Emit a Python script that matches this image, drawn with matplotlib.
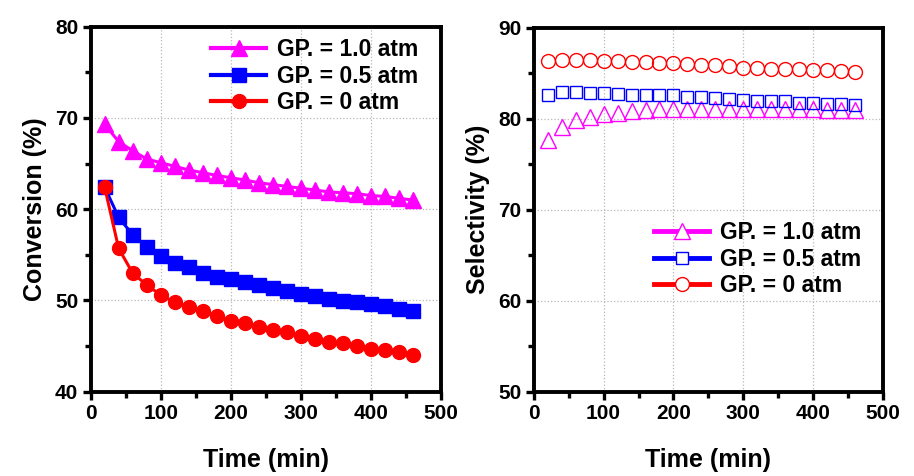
import matplotlib
matplotlib.use("Agg")
import matplotlib.pyplot as plt
from matplotlib.lines import Line2D
from matplotlib.ticker import MultipleLocator

plt.rcParams['font.family'] = ['Liberation Sans', 'DejaVu Sans']
plt.rcParams['font.weight'] = 'bold'

time_min = [20, 40, 60, 80, 100, 120, 140, 160, 180, 200, 220, 240,
            260, 280, 300, 320, 340, 360, 380, 400, 420, 440, 460]

conv_gp10 = [69.3, 67.4, 66.4, 65.5, 65.1, 64.7, 64.3, 64.0, 63.7, 63.45, 63.2, 62.9,
             62.7, 62.5, 62.3, 62.1, 61.9, 61.8, 61.7, 61.5, 61.4, 61.2, 61.0]
conv_gp05 = [62.4, 59.1, 57.2, 55.9, 54.9, 54.1, 53.7, 53.0, 52.6, 52.3, 52.0, 51.7,
             51.4, 51.0, 50.7, 50.45, 50.2, 49.9, 49.8, 49.6, 49.4, 49.1, 48.9]
conv_gp0 = [62.4, 55.7, 53.0, 51.7, 50.6, 49.8, 49.3, 48.8, 48.3, 47.8, 47.5, 47.1,
            46.8, 46.5, 46.1, 45.8, 45.5, 45.3, 45.0, 44.7, 44.6, 44.35, 44.05]

sel_gp10 = [77.7, 79.1, 79.85, 80.2, 80.5, 80.6, 80.85, 80.95, 81.05, 81.05, 81.1, 81.1,
            81.1, 81.1, 81.1, 81.1, 81.1, 81.1, 81.05, 81.05, 81.0, 81.0, 80.95]
sel_gp05 = [82.6, 82.9, 82.9, 82.85, 82.85, 82.75, 82.6, 82.6, 82.55, 82.55, 82.4, 82.35,
            82.3, 82.2, 82.05, 81.95, 81.9, 81.9, 81.7, 81.7, 81.65, 81.6, 81.55]
sel_gp0 = [86.3, 86.4, 86.4, 86.4, 86.35, 86.3, 86.25, 86.2, 86.15, 86.1, 86.0, 85.9,
           85.9, 85.75, 85.6, 85.6, 85.5, 85.45, 85.4, 85.3, 85.3, 85.2, 85.1]

labels = ["GP. = 1.0 atm", "GP. = 0.5 atm", "GP. = 0 atm"]
colors = ["#FF00FF", "#0000FF", "#FF0000"]

fig = plt.figure(figsize=(9.14, 4.76), dpi=100)
ax1 = fig.add_axes([0.0992, 0.177, 0.383, 0.767])
ax2 = fig.add_axes([0.584, 0.177, 0.382, 0.765])


def style(ax, ylo, yhi, ylabel):
    ax.set_xlim(0, 500)
    ax.set_ylim(ylo, yhi)
    ax.xaxis.set_major_locator(MultipleLocator(100))
    ax.xaxis.set_minor_locator(MultipleLocator(50))
    ax.yaxis.set_major_locator(MultipleLocator(10))
    ax.yaxis.set_minor_locator(MultipleLocator(5))
    for s in ax.spines.values():
        s.set_linewidth(2.8)
    ax.tick_params(which='major', direction='out', length=6, width=2.4,
                   labelsize=15, pad=3, top=False, right=False)
    ax.tick_params(which='minor', direction='out', length=4, width=2.4,
                   top=False, right=False)
    for lab in ax.get_xticklabels() + ax.get_yticklabels():
        lab.set_fontweight('bold')
    ax.grid(True, which='major', color='#b8b8b8', linestyle=':', linewidth=0.9)
    ax.set_axisbelow(True)
    ax.set_xlabel("Time (min)", fontsize=18, fontweight='bold', labelpad=18)
    ax.set_ylabel(ylabel, fontsize=18, fontweight='bold', labelpad=6)


style(ax1, 40, 80, "Conversion (%)")
style(ax2, 50, 90, "Selectivity (%)")

# Left panel: filled markers with lines
ax1.plot(time_min, conv_gp10, color=colors[0], marker='^', markersize=11, lw=2.2, label=labels[0], zorder=3)
ax1.plot(time_min, conv_gp05, color=colors[1], marker='s', markersize=9.5, lw=2.2, label=labels[1], zorder=3)
ax1.plot(time_min, conv_gp0, color=colors[2], marker='o', markersize=10, lw=2.2, label=labels[2], zorder=3)

leg_handles1 = [
    Line2D([], [], color=colors[0], lw=3, marker='^', markersize=11),
    Line2D([], [], color=colors[1], lw=3, marker='s', markersize=9.5),
    Line2D([], [], color=colors[2], lw=3, marker='o', markersize=10),
]
ax1.legend(leg_handles1, labels, loc='upper left', bbox_to_anchor=(0.345, 0.968), frameon=False,
           handlelength=2.4, handletextpad=0.45, labelspacing=0.14,
           borderpad=0, borderaxespad=0, prop={'weight': 'bold', 'size': 16.5})

# Right panel: open markers only
ax2.plot(time_min, sel_gp10, linestyle='none', marker='^', markersize=11, mfc='none',
         mec=colors[0], mew=1.0, zorder=3)
ax2.plot(time_min, sel_gp05, linestyle='none', marker='s', markersize=8.5, mfc='none',
         mec=colors[1], mew=1.0, zorder=3)
ax2.plot(time_min, sel_gp0, linestyle='none', marker='o', markersize=10, mfc='none',
         mec=colors[2], mew=1.0, zorder=3)

handles = [
    Line2D([], [], color=colors[0], lw=3.5, marker='^', markersize=11, mfc='white', mec=colors[0], mew=1.0),
    Line2D([], [], color=colors[1], lw=3.5, marker='s', markersize=8.5, mfc='white', mec=colors[1], mew=1.0),
    Line2D([], [], color=colors[2], lw=3.5, marker='o', markersize=10, mfc='white', mec=colors[2], mew=1.0),
]
ax2.legend(handles, labels, loc='upper left', bbox_to_anchor=(0.345, 0.468), frameon=False,
           handlelength=2.4, handletextpad=0.45, labelspacing=0.14,
           borderpad=0, borderaxespad=0, prop={'weight': 'bold', 'size': 16.5})

fig.savefig("out.png", dpi=100)
